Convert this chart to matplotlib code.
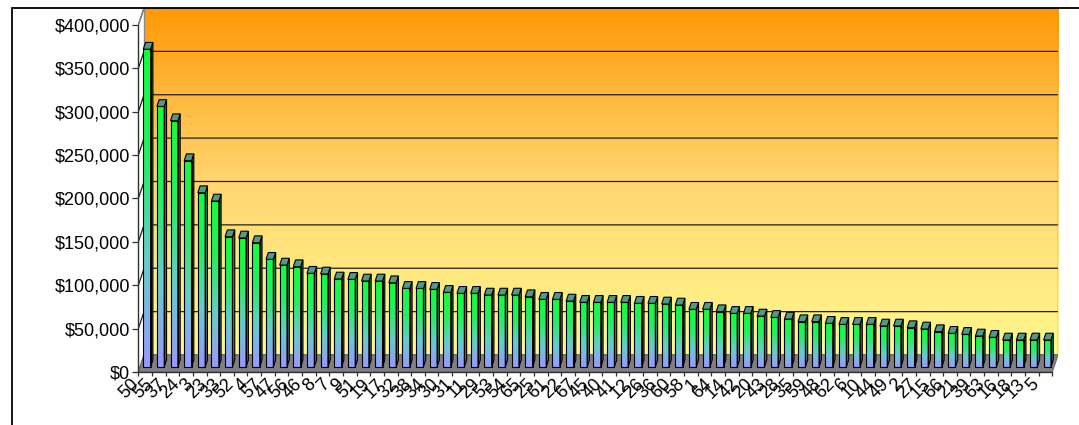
import matplotlib
matplotlib.use("Agg")
import matplotlib.pyplot as plt
import matplotlib.transforms as mtransforms
import numpy as np
from matplotlib.colors import LinearSegmentedColormap
from matplotlib.patches import Polygon, Rectangle
from matplotlib.ticker import FuncFormatter

# category labels (ids) and the value of each bar, sorted high to low
labels = ["50", "55", "37", "24", "3", "23", "33", "52", "4", "57", "47", "56",
          "46", "8", "7", "9", "51", "19", "17", "32", "38", "34", "30", "31",
          "11", "29", "53", "54", "65", "25", "61", "22", "67", "45", "40", "41",
          "12", "26", "36", "60", "58", "1", "64", "14", "42", "20", "43", "28",
          "35", "59", "48", "62", "6", "10", "44", "49", "2", "27", "15", "66",
          "21", "39", "63", "16", "18", "13", "5"]
sales = [366000, 300000, 283600, 237500, 200600, 191000, 149900, 148400,
         143000, 123800, 117200, 115300, 107700, 106900, 101100, 100700,
         98800, 98800, 96800, 90300, 90300, 89200, 85700, 84600, 84600,
         82600, 82600, 82600, 80700, 77700, 77700, 75700, 74200, 74200,
         74200, 74200, 73100, 73100, 72300, 71100, 66200, 66200, 63400,
         61500, 61500, 58400, 56900, 54900, 51900, 51900, 50000, 48800,
         48800, 48800, 46900, 46900, 45000, 43500, 40400, 38500, 37300,
         35400, 33900, 30800, 30800, 30800, 30800]
y_ticks = [0, 50000, 100000, 150000, 200000, 250000, 300000, 350000, 400000]

plt.rcParams['font.family'] = ['Liberation Sans', 'DejaVu Sans']

n = len(sales)
ymax = y_ticks[-1]
DX, DY = 0.42, 19600          # depth of the 3d box, in data units
bar_w = 0.54
front = 0.31                  # where the bars stand inside the depth
deep = 0.40                   # how deep each bar is

fig = plt.figure(figsize=(10.79, 4.25), dpi=100)
ax = fig.add_axes([0.1282, 0.1247, 0.8524, 0.8565])
ax.patch.set_visible(False)

# outer chart border (only left and top are inside the picture)
fig.add_artist(Rectangle((11.5 / 1079, -0.5), 2, 1.5 - 7.5 / 425,
                         transform=fig.transFigure, fill=False,
                         edgecolor="black", lw=1.3))

# back wall with orange -> yellow gradient
wall_cmap = LinearSegmentedColormap.from_list("wall", ["#FFF88E", "#FFD670", "#FF9906"])
ax.imshow(np.linspace(0, 1, 256).reshape(-1, 1), cmap=wall_cmap,
          extent=(-0.5 + DX, n - 0.5 + DX, DY, ymax + DY), origin="lower",
          aspect="auto", zorder=0)

# gridlines over back wall and the left side wall
for v in y_ticks:
    ax.plot([-0.5, -0.5 + DX, n - 0.5 + DX], [v, v + DY, v + DY],
            color="#202020", lw=0.9, zorder=1, solid_capstyle="butt")
ax.plot([-0.5 + DX, -0.5 + DX], [DY, ymax + DY], color="#8a8a8a", lw=1, zorder=1)
ax.plot([n - 0.5 + DX, n - 0.5 + DX], [DY, ymax + DY], color="#8a8a8a", lw=1, zorder=1)
ax.plot([-0.5, -0.5 + DX, n - 0.5 + DX], [ymax, ymax + DY, ymax + DY],
        color="#8a8a8a", lw=1, zorder=1)

# floor
ax.add_patch(Polygon([(-0.5, 0), (n - 0.5, 0), (n - 0.5 + DX, DY), (-0.5 + DX, DY)],
                     closed=True, facecolor="#808080", edgecolor="#6e6e6e",
                     lw=0.8, zorder=2))

bar_cmap = LinearSegmentedColormap.from_list("bar", ["#9999FF", "#66CCCC", "#22F060", "#11FF3A"])
side_cmap = LinearSegmentedColormap.from_list("side", ["#55558F", "#3A7A7A", "#0A8A22"])
grad = np.linspace(0, 1, 128).reshape(-1, 1)
fx, fy = front * DX, front * DY
bx, by = deep * DX, deep * DY

for i, v in enumerate(sales):
    x0 = i - bar_w / 2 + fx
    y0 = fy
    z = 3 + i * 0.001
    # front face
    rect = Rectangle((x0, y0), bar_w, v, facecolor="none", edgecolor="black",
                     lw=0.8, zorder=z + 0.0005)
    ax.add_patch(rect)
    im = ax.imshow(grad, cmap=bar_cmap, extent=(x0, x0 + bar_w, y0, y0 + v),
                   origin="lower", aspect="auto", zorder=z)
    im.set_clip_path(rect)
    # side face
    side = Polygon([(x0 + bar_w, y0), (x0 + bar_w + bx, y0 + by),
                    (x0 + bar_w + bx, y0 + by + v), (x0 + bar_w, y0 + v)],
                   closed=True, facecolor="none", edgecolor="black", lw=0.8,
                   zorder=z + 0.0005)
    ax.add_patch(side)
    im2 = ax.imshow(grad, cmap=side_cmap,
                    extent=(x0 + bar_w, x0 + bar_w + bx, y0, y0 + by + v),
                    origin="lower", aspect="auto", zorder=z)
    im2.set_clip_path(side)
    # top face
    ax.add_patch(Polygon([(x0, y0 + v), (x0 + bar_w, y0 + v),
                          (x0 + bar_w + bx, y0 + v + by), (x0 + bx, y0 + v + by)],
                         closed=True, facecolor="#4F9A88", edgecolor="black",
                         lw=0.8, zorder=z + 0.0005))

ax.set_xlim(-0.5, n - 0.5 + DX)
ax.set_ylim(0, ymax + DY)

for s in ["top", "right"]:
    ax.spines[s].set_visible(False)
ax.spines["left"].set_bounds(0, ymax)
ax.spines["bottom"].set_bounds(-0.5, n - 0.5)
for s in ["left", "bottom"]:
    ax.spines[s].set_color("#303030")
    ax.spines[s].set_linewidth(1.0)

ax.set_yticks(y_ticks)
ax.yaxis.set_major_formatter(FuncFormatter(lambda v, p: "${:,.0f}".format(v)))
ax.tick_params(axis="y", direction="out", length=4.2, width=0.9,
               color="#303030", pad=1.5, labelsize=13)

ax.set_xticks(np.arange(n + 1) - 0.5)
ax.set_xticklabels([])
ax.set_xticks(np.arange(n), labels, minor=True)
ax.tick_params(axis="x", which="major", direction="out", length=3.2,
               width=0.9, color="#303030")
ax.tick_params(axis="x", which="minor", length=0, pad=7, labelsize=13)
shift = mtransforms.ScaledTranslation(-0.09, 0.0, fig.dpi_scale_trans)
for t in ax.get_xticklabels(minor=True):
    t.set_rotation(45)
    t.set_ha("right")
    t.set_va("center")
    t.set_rotation_mode("anchor")
    t.set_transform(t.get_transform() + shift)

fig.savefig("out.png", dpi=100)
